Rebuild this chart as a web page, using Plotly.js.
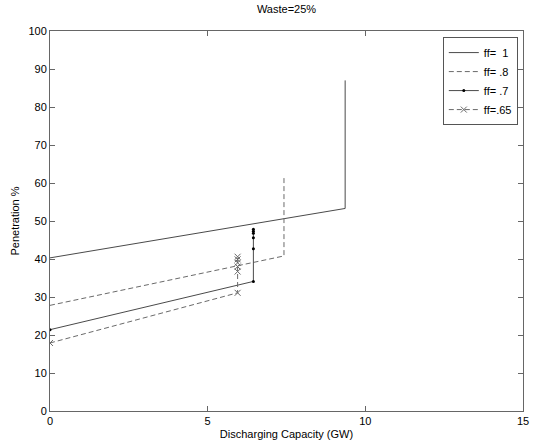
<!DOCTYPE html>
<html>
<head>
<meta charset="utf-8">
<script src="https://cdn.plot.ly/plotly-3.0.1.min.js"></script>
<style>html,body{margin:0;padding:0;background:#fff;}#chart{width:541px;height:443px;}</style>
</head>
<body>
<div id="chart"></div>
<script>
// Series data
const seriesNames = ['ff=  1', 'ff= .8', 'ff= .7', 'ff=.65'];
const x_ff1 = [0, 9.36, 9.36];
const y_ff1 = [40.3, 53.3, 87.0];
const x_ff08 = [0, 7.42, 7.42];
const y_ff08 = [27.8, 40.8, 61.6];
const x_ff07 = [0, 6.45, 6.45, 6.45, 6.45, 6.45, 6.45];
const y_ff07 = [21.4, 34.1, 42.7, 45.6, 46.8, 47.3, 47.8];
const x_ff065 = [0, 5.95, 5.95, 5.95, 5.95, 5.95, 5.95];
const y_ff065 = [17.9, 31.1, 36.7, 38.0, 39.0, 39.9, 40.6];
const xTicks = [0, 5, 10, 15];
const yTicks = [0, 10, 20, 30, 40, 50, 60, 70, 80, 90, 100];

const lineColor = '#4a4a4a';
const dashColor = '#6a6a6a';
const font = {family: 'Liberation Sans, Arial, sans-serif', size: 11, color: '#000'};

const traces = [
  {x: x_ff1, y: y_ff1, name: seriesNames[0], mode: 'lines', line: {color: lineColor, width: 1}},
  {x: x_ff08, y: y_ff08, name: seriesNames[1], mode: 'lines', line: {color: dashColor, width: 1, dash: '5px,3px'}},
  {x: x_ff07, y: y_ff07, name: seriesNames[2], mode: 'lines+markers', line: {color: lineColor, width: 1},
   marker: {symbol: 'circle', size: 3, color: '#000'}},
  {x: x_ff065, y: y_ff065, name: seriesNames[3], mode: 'lines+markers', line: {color: dashColor, width: 1, dash: '5px,3px'},
   marker: {symbol: 'x-thin-open', size: 6, line: {color: '#777', width: 1}}}
];

const axisCommon = {
  showgrid: false, zeroline: false, showline: true, linecolor: '#666', linewidth: 1,
  mirror: 'ticks', ticks: 'inside', ticklen: 5, tickcolor: '#666', tickfont: font
};

const layout = {
  width: 541, height: 443,
  margin: {l: 50, r: 18, t: 31, b: 32},
  paper_bgcolor: '#fff', plot_bgcolor: '#fff',
  font: font,
  title: {text: 'Waste=25%', font: font, x: 0.5, xanchor: 'center', xref: 'paper', y: 1, yref: 'container', yanchor: 'top', pad: {t: 5}},
  xaxis: Object.assign({}, axisCommon, {range: [0, 15], tickvals: xTicks, ticktext: xTicks.map(String),
    title: {text: 'Discharging Capacity (GW)', font: font, standoff: 4}}),
  yaxis: Object.assign({}, axisCommon, {range: [0, 100], tickvals: yTicks, ticktext: yTicks.map(String),
    title: {text: 'Penetration %', font: font, standoff: 6}}),
  showlegend: true,
  legend: {x: 0.989, xanchor: 'right', y: 0.984, yanchor: 'top', bgcolor: '#fff', bordercolor: '#555', borderwidth: 1,
    font: font, tracegroupgap: 0, itemwidth: 30}
};

Plotly.newPlot('chart', traces, layout, {displayModeBar: false, staticPlot: true});
</script>
</body>
</html>
